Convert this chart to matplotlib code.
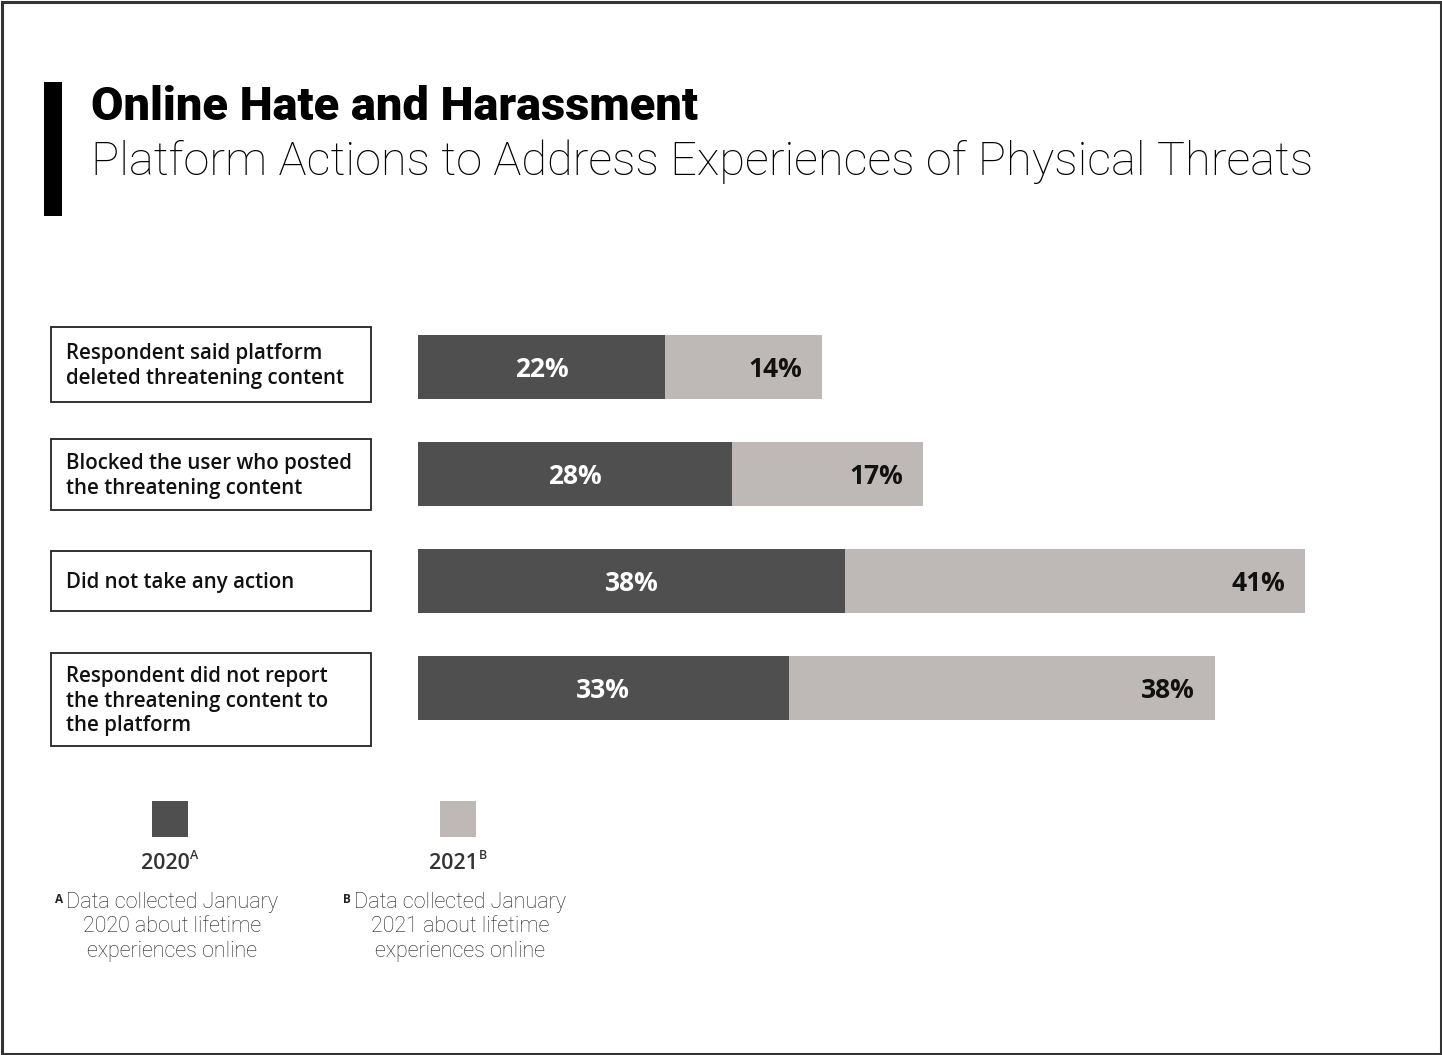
import matplotlib.pyplot as plt
from matplotlib.patches import Rectangle

# ── Data ──────────────────────────────────────────────────
categories = [
    'Respondent said platform\ndeleted threatening content',
    'Blocked the user who posted\nthe threatening content',
    'Did not take any action',
    'Respondent did not report\nthe threatening content to\nthe platform',
]
vals_2020 = [22, 28, 38, 33]
vals_2021 = [14, 17, 41, 38]
years = ['2020', '2021']
notes = ['A', 'B']
foot_2020 = 'Data collected January\n2020 about lifetime\nexperiences online'
foot_2021 = 'Data collected January\n2021 about lifetime\nexperiences online'

# ── Style ─────────────────────────────────────────────────
DARK = '#4F4F4F'
LIGHT = '#BEB9B6'
INK = '#111111'
W, H = 1442, 1055

fig = plt.figure(figsize=(W / 100, H / 100), dpi=100, facecolor='white')

# overlay in pixel coords for frame, titles, boxes, legend
bg = fig.add_axes([0, 0, 1, 1])
bg.set_xlim(0, W); bg.set_ylim(H, 0)
bg.axis('off')

bg.add_patch(Rectangle((1.5, 1.5), W - 3, H - 3, fill=False, edgecolor='#333333', linewidth=2.2))

# title block
bg.add_patch(Rectangle((44, 82), 18, 134, facecolor='black', edgecolor='none'))
bg.text(91, 120, 'Online Hate and Harassment', family='Roboto', weight='black',
        fontsize=33.8, color='black', va='baseline')
bg.text(91, 175, 'Platform Actions to Address Experiences of Physical Threats',
        family='Roboto', weight='light', fontsize=33.8, color='black', va='baseline')

# ── Bars ──────────────────────────────────────────────────
top, bot = 335, 720
ax = fig.add_axes([418 / W, 1 - bot / H, 887 / W, (bot - top) / H])
ax.axis('off')
y = list(range(len(categories)))
bh = 64 / 107
ax.barh(y, vals_2020, height=bh, color=DARK)
ax.barh(y, vals_2021, left=vals_2020, height=bh, color=LIGHT)
ax.set_xlim(0, 79)
ax.set_ylim(len(categories) - 1 + bh / 2, -bh / 2)

pad = 20 * 79 / 887
for i, (a, b) in enumerate(zip(vals_2020, vals_2021)):
    ax.text(a / 2, i + 0.02, f'{a}%', ha='center', va='center', color='white',
            family='Open Sans', weight='bold', fontsize=19)
    ax.text(a + b - pad, i + 0.02, f'{b}%', ha='right', va='center', color=INK,
            family='Open Sans', weight='bold', fontsize=19)

# category label boxes
boxes = [(327, 402), (439, 510), (551, 611), (653, 746)]
for (y0, y1), lab in zip(boxes, categories):
    bg.add_patch(Rectangle((51, y0), 320, y1 - y0, fill=False, edgecolor='#222222', linewidth=1.3))
    bg.text(66, (y0 + y1) / 2 + 1.5, lab, ha='left', va='center', family='Open Sans',
            weight='semibold', fontsize=14.8, color=INK, linespacing=1.2)

# ── Legend ────────────────────────────────────────────────
leg = [(170, DARK, foot_2020), (458, LIGHT, foot_2021)]
for (cx, col, foot), yr, nt in zip(leg, years, notes):
    bg.add_patch(Rectangle((cx - 18, 801), 36, 36, facecolor=col, edgecolor='none'))
    bg.text(cx + 20, 869, yr, ha='right', va='baseline', family='Open Sans',
            weight='semibold', fontsize=15.5, color='#333333')
    bg.text(cx + 20.5, 859, nt, ha='left', va='baseline', family='Open Sans',
            weight='semibold', fontsize=9, color='#333333')
    bg.text(cx + 2, 927, foot, ha='center', va='center', family='Roboto', weight='light',
            fontsize=15.5, color='#222222', linespacing=1.2)
    bg.text(cx - 107, 903, nt, ha='right', va='baseline', family='Open Sans',
            weight='bold', fontsize=8.5, color='#222222')

fig.savefig('out.png', dpi=100, facecolor='white')
